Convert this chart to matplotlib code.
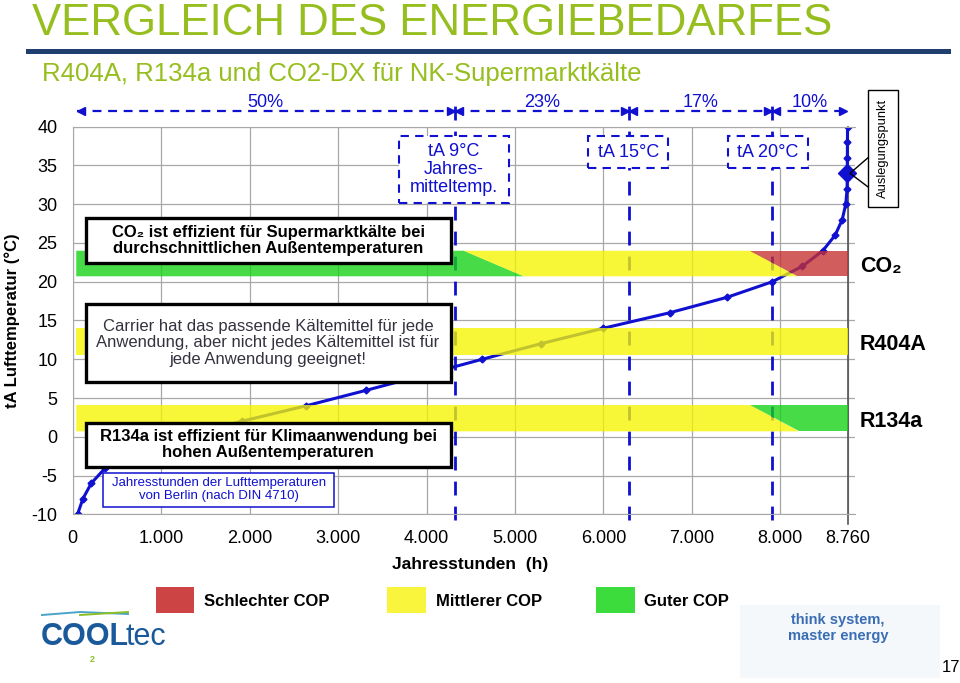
import matplotlib
matplotlib.use("Agg")
import matplotlib.pyplot as plt
from matplotlib.patches import Rectangle, Polygon
from matplotlib.lines import Line2D

plt.rcParams['font.family'] = ['Liberation Sans', 'DejaVu Sans']
plt.rcParams['axes.unicode_minus'] = False

# Jahresstunden der Lufttemperaturen Berlin (DIN 4710)
temps = [-10, -8, -6, -4, -2, 0, 2, 4, 6, 8, 10, 12, 14, 16, 18, 20,
         22, 24, 26, 28, 30, 32, 34, 36, 38, 40]
hours = [55, 115, 210, 370, 720, 1250, 1910, 2640, 3320, 3980, 4630, 5290,
         6000, 6750, 7400, 7910, 8250, 8480, 8620, 8700, 8740, 8755, 8757,
         8758, 8759, 8760]
design_temp = 34

split_hours = [4320, 6290, 7910]
split_labels = ['tA 9°C\nJahres-\nmitteltemp.', 'tA 15°C', 'tA 20°C']
share_edges = [45, 4320, 6290, 7910, 8750]
share_labels = ['50%', '23%', '17%', '10%']

xticks = [0, 1000, 2000, 3000, 4000, 5000, 6000, 7000, 8000, 8760]
xticklabels = ['0', '1.000', '2.000', '3.000', '4.000', '5.000', '6.000',
               '7.000', '8.000', '8.760']
yticks = [-10, -5, 0, 5, 10, 15, 20, 25, 30, 35, 40]

refrigerants = ['CO₂', 'R404A', 'R134a']
band_low = [20.7, 10.5, 0.7]
band_high = [24.0, 14.0, 4.1]
band_start = 40
band_end = 8760
# COP-Zonen je Kältemittel: Farben und Übergänge (oben / unten)
zone_cop = [['good', 'mid', 'bad'], ['mid'], ['mid', 'good']]
zone_top = [[4420, 7660], [], [7660]]
zone_bottom = [[5100, 8190], [], [8210]]

cop_color = {'bad': '#c43030', 'mid': '#f5f500', 'good': '#14d214'}
legend_keys = ['bad', 'mid', 'good']
legend_labels = ['Schlechter COP', 'Mittlerer COP', 'Guter COP']
legend_fill = {'bad': '#cd4444', 'mid': '#f8f53c', 'good': '#3cdc3c'}

W, H = 960, 683
BLUE = '#1010d0'
GREEN_T = '#96be1e'


def fx(px):
    return px / W


def fy(py):
    return 1 - py / H


def fig_box(x0, y0, x1, y1, **kw):
    r = Rectangle((fx(x0), fy(y1)), (x1 - x0) / W, (y1 - y0) / H,
                  transform=fig.transFigure, **kw)
    fig.patches.append(r)
    return r


fig = plt.figure(figsize=(9.6, 6.83), dpi=100)

# title
fig.text(fx(32), fy(35), 'VERGLEICH DES ENERGIEBEDARFES', fontsize=31.5,
         color=GREEN_T, va='baseline', ha='left')
fig.lines.append(Line2D([fx(28), fx(948)], [fy(50.5), fy(50.5)], lw=3.6,
                        color='#1f3f6e', transform=fig.transFigure))
fig.text(fx(42), fy(81.5), 'R404A, R134a und CO2-DX für NK-Supermarktkälte',
         fontsize=18.5, color=GREEN_T, va='baseline', ha='left')

ax = fig.add_axes([fx(72.7), fy(514.3), 781.9 / W, 387.6 / H])
ax.set_xlim(0, 8840)
ax.set_ylim(-10, 40)
ax.set_xticks(xticks)
ax.set_xticklabels(xticklabels)
ax.set_yticks(yticks)
ax.tick_params(length=0, labelsize=13, pad=11)
ax.grid(True, color='#a8a8a8', lw=0.9)
ax.set_axisbelow(True)
for s in ['left', 'bottom', 'top']:
    ax.spines[s].set_color('#a8a8a8')
ax.spines['right'].set_visible(False)
ax.plot([8760, 8760], [-11.2, 40], color='#555555', lw=1.2, clip_on=False,
        zorder=1.5)

# curve
ax.plot(hours, temps, color=BLUE, lw=2.2, marker='D', ms=3.5, zorder=2.5)
ax.plot(hours[temps.index(design_temp)], design_temp, marker='D', ms=9,
        color=BLUE, zorder=2.6, clip_on=False)

# split lines
for xh in split_hours:
    ax.plot([xh, xh], [-10.7, 44.1], color=BLUE, lw=2, dashes=(5, 4),
            clip_on=False, zorder=2)

# percentage arrows
for i, lab in enumerate(share_labels):
    x0, x1 = share_edges[i], share_edges[i + 1]
    ax.plot([x0, x1], [42.0, 42.0], color=BLUE, lw=1.6, dashes=(4, 3),
            clip_on=False)
    ax.plot(x0 + 45, 42.0, marker='<', ms=6, color=BLUE, clip_on=False)
    ax.plot(x1 - 45, 42.0, marker='>', ms=6, color=BLUE, clip_on=False)
    ax.text((x0 + x1) / 2, 43.1, lab, color=BLUE, fontsize=13, ha='center',
            va='center', clip_on=False)

# COP bands
for b, name in enumerate(refrigerants):
    lo, hi = band_low[b], band_high[b]
    tops = [band_start] + zone_top[b] + [band_end]
    bots = [band_start] + zone_bottom[b] + [band_end]
    for z, key in enumerate(zone_cop[b]):
        verts = [(tops[z], hi), (tops[z + 1], hi), (bots[z + 1], lo), (bots[z], lo)]
        ax.add_patch(Polygon(verts, closed=True, facecolor=cop_color[key],
                             edgecolor='none', alpha=0.78, zorder=3))
    ax.text(8900, (lo + hi) / 2 - 0.4, name, fontsize=15.5, fontweight='bold',
            ha='left', va='center', clip_on=False)

# axis labels
fig.text(fx(12), fy(321), 'tA Lufttemperatur (°C)', rotation=90,
         fontsize=12, fontweight='bold', ha='center', va='center')
fig.text(fx(470), fy(565), 'Jahresstunden  (h)', fontsize=12.5,
         fontweight='bold', ha='center', va='center')

# dashed label boxes at the split lines
split_boxes = [(399, 136, 509, 202.7), (588.3, 136, 668.3, 168.3),
               (728.3, 136, 807.7, 168.3)]
for (x0, y0, x1, y1), lab in zip(split_boxes, split_labels):
    fig_box(x0, y0, x1, y1, facecolor='white', edgecolor=BLUE, lw=1.5,
            linestyle=(0, (4, 3)), zorder=5)
    fig.text(fx((x0 + x1) / 2), fy((y0 + y1) / 2), lab, color=BLUE,
             fontsize=13, ha='center', va='center', linespacing=1.05, zorder=6)

# Auslegungspunkt callout
fig_box(867.7, 90, 897.7, 206.7, facecolor='white', edgecolor='black', lw=1,
        zorder=5)
fig.text(fx(882.7), fy(148), 'Auslegungspunkt', rotation=90, fontsize=9.3,
         ha='center', va='center', zorder=6)
fig.lines.append(Line2D([fx(867.7), fx(850), fx(867.7)],
                        [fy(158), fy(173.3), fy(186.7)], color='black', lw=1,
                        transform=fig.transFigure, zorder=5))

# text boxes
fig_box(85.7, 218.3, 450.7, 262.7, facecolor='white', edgecolor='black',
        lw=2.4, zorder=5)
fig.text(fx(268), fy(240.5),
         'CO₂ ist effizient für Supermarktkälte bei\n'
         'durchschnittlichen Außentemperaturen',
         fontsize=12, fontweight='bold', ha='center', va='center',
         linespacing=1.1, zorder=6)
fig_box(85.7, 304, 450.7, 381.7, facecolor='white', edgecolor='black',
        lw=2.4, zorder=5)
fig.text(fx(268), fy(343),
         'Carrier hat das passende Kältemittel für jede\n'
         'Anwendung, aber nicht jedes Kältemittel ist für\n'
         'jede Anwendung geeignet!',
         fontsize=12, color='#333340', ha='center', va='center',
         linespacing=1.1, zorder=6)
fig_box(85.7, 422.7, 450.7, 466.7, facecolor='white', edgecolor='black',
        lw=2.4, zorder=5)
fig.text(fx(268), fy(444.7),
         'R134a ist effizient für Klimaanwendung bei\n'
         'hohen Außentemperaturen',
         fontsize=12, fontweight='bold', ha='center', va='center',
         linespacing=1.1, zorder=6)
fig_box(103.3, 472.7, 334.3, 506.7, facecolor='white', edgecolor=BLUE,
        lw=1.1, zorder=5)
fig.text(fx(218.8), fy(489.7),
         'Jahresstunden der Lufttemperaturen\nvon Berlin (nach DIN 4710)',
         fontsize=9.5, color=BLUE, ha='center', va='center',
         linespacing=1.1, zorder=6)

# legend
leg_x = [155.7, 387.3, 596]
for key, lab, x0 in zip(legend_keys, legend_labels, leg_x):
    fig_box(x0, 586.7, x0 + 38.7, 613.3, facecolor=legend_fill[key],
            edgecolor='none', zorder=5)
    fig.text(fx(x0 + 48.5), fy(601.5), lab, fontsize=12, fontweight='bold',
             ha='left', va='center')

# logo / footer
fig.text(fx(41), fy(645), 'COOL', fontsize=22, fontweight='bold',
         color='#1a5a9a', ha='left', va='baseline')
fig.text(fx(126), fy(645), 'tec', fontsize=22, color='#1a5a9a',
         ha='left', va='baseline')
fig.text(fx(92), fy(659), '2', fontsize=6.5, fontweight='bold',
         color='#8cbf26', ha='center', va='center')
fig.lines.append(Line2D([fx(42), fx(80), fx(128)], [fy(615), fy(612), fy(614)],
                        color='#4aa3c8', lw=1.4, transform=fig.transFigure))
fig.lines.append(Line2D([fx(80), fx(128)], [fy(615), fy(612)],
                        color='#8cbf26', lw=1.4, transform=fig.transFigure))
fig_box(740, 605, 940, 678, facecolor='#dbe9f4', edgecolor='none',
        alpha=0.3, zorder=1)
fig.text(fx(838), fy(628), 'think system,\nmaster energy', fontsize=10.5,
         fontweight='bold', color='#3a6db5', ha='center', va='center',
         linespacing=1.15, zorder=6)
fig.text(fx(951), fy(667), '17', fontsize=12, ha='center', va='center')

fig.savefig('out.png', dpi=100)
